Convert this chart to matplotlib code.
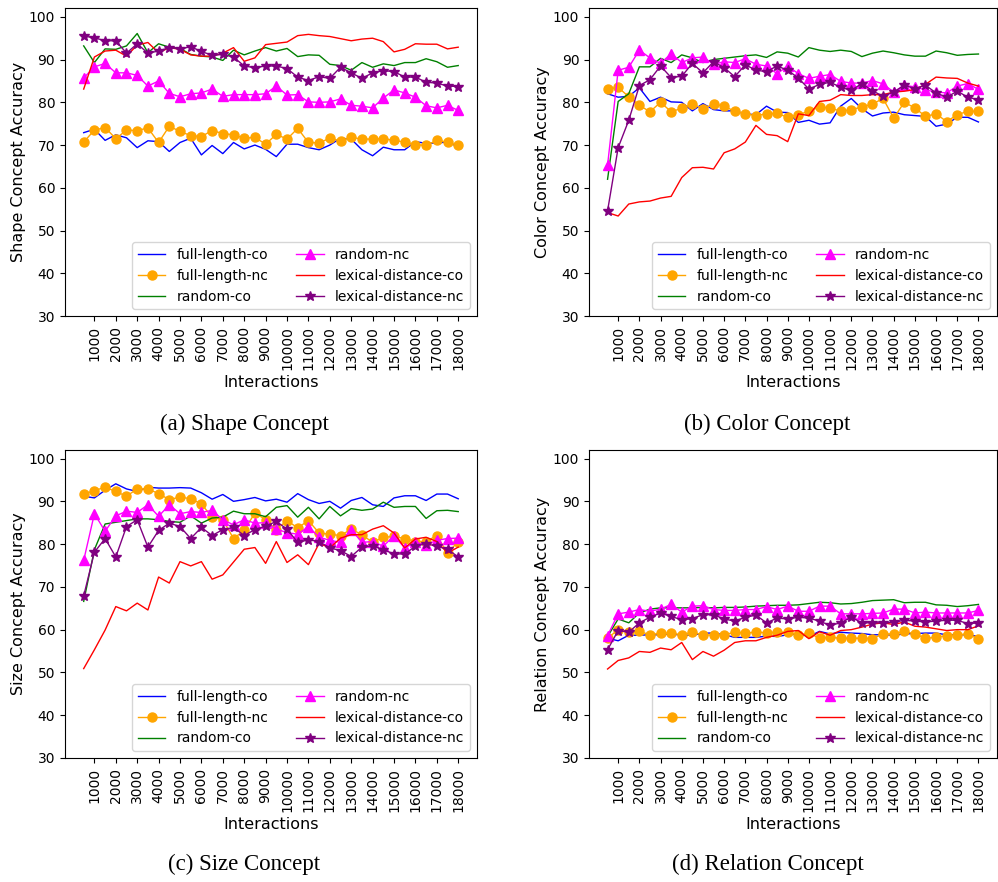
import matplotlib
matplotlib.use("Agg")
import matplotlib.pyplot as plt

interactions = [500, 1000, 1500, 2000, 2500, 3000, 3500, 4000, 4500, 5000, 5500, 6000,
                6500, 7000, 7500, 8000, 8500, 9000, 9500, 10000, 10500, 11000, 11500, 12000,
                12500, 13000, 13500, 14000, 14500, 15000, 15500, 16000, 16500, 17000, 17500, 18000]
xtick_values = [1000, 2000, 3000, 4000, 5000, 6000, 7000, 8000, 9000,
                10000, 11000, 12000, 13000, 14000, 15000, 16000, 17000, 18000]
series_names = ["full-length-co", "full-length-nc", "random-co",
                "random-nc", "lexical-distance-co", "lexical-distance-nc"]

# (a) shape
shape_full_co = [72.9, 73.7, 71.1, 72.4, 71.7, 69.4, 71.0, 70.8, 68.5, 70.6, 71.6, 67.7,
                 69.9, 68.0, 70.6, 69.1, 70.0, 69.0, 67.3, 70.2, 70.2, 69.4, 68.9, 70.0,
                 71.6, 71.4, 68.9, 67.5, 69.5, 68.9, 68.9, 70.8, 70.4, 70.5, 70.7, 69.6]
shape_full_nc = [70.7, 73.5, 74.1, 71.5, 73.5, 73.4, 74.0, 70.6, 74.4, 73.2, 72.2, 72.0,
                 73.4, 72.7, 72.4, 71.6, 71.8, 70.2, 72.5, 71.4, 73.9, 70.6, 70.5, 71.6,
                 71.0, 71.8, 71.4, 71.4, 71.5, 71.1, 70.7, 70.1, 69.9, 71.1, 70.7, 69.9]
shape_random_co = [93.2, 89.3, 92.5, 92.4, 93.2, 96.1, 91.6, 93.7, 92.9, 92.6, 91.2, 90.8,
                   90.6, 89.8, 92.2, 91.1, 92.0, 92.8, 92.0, 92.6, 90.7, 91.1, 91.0, 88.9,
                   88.6, 87.5, 89.3, 88.2, 89.0, 88.6, 89.3, 89.3, 90.2, 89.5, 88.2, 88.6]
shape_random_nc = [85.7, 88.3, 89.1, 86.9, 86.9, 86.3, 83.8, 85.0, 82.1, 81.3, 82.0, 82.2,
                   83.1, 81.4, 81.8, 81.8, 81.8, 82.0, 83.8, 81.7, 81.8, 80.1, 80.0, 80.1,
                   80.8, 79.3, 79.1, 78.7, 81.0, 82.9, 82.2, 81.2, 79.2, 78.7, 79.3, 78.1]
shape_lex_co = [83.1, 90.6, 92.0, 92.2, 90.8, 93.4, 94.0, 91.6, 92.8, 92.4, 91.1, 90.8,
                90.8, 91.5, 92.8, 89.6, 90.4, 93.5, 93.8, 94.1, 95.6, 95.9, 95.6, 95.4,
                94.9, 94.4, 94.8, 95.0, 94.2, 91.8, 92.4, 93.7, 93.6, 93.6, 92.5, 92.9]
shape_lex_nc = [95.5, 95.1, 94.4, 94.4, 91.5, 93.7, 91.5, 92.0, 92.8, 92.5, 93.0, 91.9,
                91.0, 91.2, 90.6, 88.5, 88.1, 88.5, 88.5, 87.9, 85.9, 85.1, 86.0, 85.6,
                88.2, 86.9, 85.6, 86.9, 87.4, 87.2, 85.9, 85.9, 84.7, 84.5, 83.8, 83.7]

# (b) color
color_full_co = [82.0, 81.2, 81.4, 83.4, 80.2, 81.2, 80.1, 80.0, 78.0, 79.7, 78.3, 78.0,
                 78.0, 77.3, 77.1, 79.1, 77.7, 77.6, 75.3, 75.8, 74.9, 75.2, 79.1, 80.9,
                 78.5, 76.8, 77.5, 77.7, 77.1, 76.9, 76.7, 74.4, 74.9, 76.5, 76.5, 75.4]
color_full_nc = [83.1, 83.5, 81.3, 79.3, 77.8, 80.0, 77.8, 78.6, 79.6, 78.5, 79.6, 79.1,
                 77.9, 77.3, 76.9, 77.3, 77.4, 76.5, 77.1, 77.9, 78.9, 78.7, 77.9, 78.3,
                 78.9, 79.6, 80.9, 76.3, 80.0, 78.7, 76.7, 77.3, 75.5, 77.1, 77.9, 77.9]
color_random_co = [62.0, 80.2, 82.0, 88.3, 88.3, 90.3, 89.3, 91.1, 90.4, 89.3, 90.0, 90.3,
                   90.6, 90.9, 91.1, 90.5, 91.8, 91.5, 90.6, 92.8, 92.2, 91.9, 92.2, 91.9,
                   90.7, 91.5, 92.0, 91.6, 91.1, 90.8, 90.8, 92.0, 91.6, 91.0, 91.2, 91.3]
color_random_nc = [65.3, 87.5, 88.2, 92.2, 90.4, 89.1, 91.4, 89.3, 90.4, 90.6, 88.9, 89.5,
                   89.3, 90.2, 88.9, 88.5, 86.7, 88.5, 86.7, 85.6, 86.1, 86.5, 84.9, 84.5,
                   84.5, 85.1, 84.3, 82.4, 84.0, 83.6, 82.9, 82.4, 82.2, 83.8, 84.4, 83.0]
color_lex_co = [54.2, 53.4, 56.2, 56.7, 56.9, 57.6, 58.0, 62.4, 64.7, 64.8, 64.4, 68.2,
                69.1, 70.7, 74.6, 72.5, 72.2, 70.8, 77.3, 76.9, 80.2, 80.5, 81.8, 81.6,
                81.6, 81.8, 81.8, 82.4, 82.6, 83.0, 84.2, 85.9, 85.7, 85.6, 84.5, 83.8]
color_lex_nc = [54.6, 69.4, 75.8, 83.9, 85.3, 88.5, 85.8, 86.1, 89.1, 86.9, 89.5, 88.1,
                86.0, 88.8, 87.5, 87.2, 88.5, 87.5, 85.7, 83.1, 84.2, 84.7, 83.5, 82.8,
                84.4, 82.7, 81.4, 82.4, 84.0, 83.2, 84.0, 82.2, 81.2, 82.6, 81.2, 80.6]

# (c) size
size_full_co = [91.2, 90.8, 92.6, 94.1, 92.9, 92.3, 93.3, 93.1, 93.1, 93.2, 93.1, 92.0,
                90.5, 91.6, 90.0, 90.4, 90.9, 90.1, 90.5, 89.8, 91.8, 90.4, 89.5, 90.0,
                88.4, 90.2, 90.9, 89.2, 88.8, 90.8, 91.3, 91.3, 90.2, 91.7, 91.7, 90.6]
size_full_nc = [91.7, 92.5, 93.3, 92.3, 91.2, 92.9, 92.9, 91.8, 90.4, 91.0, 90.6, 89.4,
                86.3, 85.7, 81.3, 83.2, 87.3, 85.7, 83.4, 85.5, 83.8, 85.5, 82.6, 82.3,
                82.0, 83.5, 82.2, 80.4, 81.6, 81.8, 81.3, 80.6, 80.6, 82.0, 77.9, 80.6]
size_random_co = [66.6, 78.7, 84.7, 85.1, 85.5, 85.9, 85.9, 85.7, 85.3, 85.1, 86.6, 84.9,
                  86.1, 86.3, 87.7, 87.1, 87.1, 86.4, 88.6, 89.0, 86.3, 88.6, 85.9, 88.8,
                  86.6, 88.3, 87.9, 88.2, 89.8, 88.6, 88.8, 88.8, 86.0, 87.8, 87.9, 87.6]
size_random_nc = [76.2, 87.1, 83.0, 86.6, 87.7, 87.4, 89.2, 86.5, 89.2, 87.1, 87.6, 87.4,
                  87.9, 85.7, 84.5, 85.7, 84.9, 85.0, 83.5, 82.7, 82.3, 84.1, 81.6, 80.9,
                  80.4, 83.4, 80.4, 80.6, 79.5, 82.0, 79.1, 80.4, 79.8, 80.9, 81.3, 81.4]
size_lex_co = [50.9, 55.3, 59.9, 65.4, 64.4, 66.2, 64.6, 72.3, 70.9, 75.9, 74.9, 75.9,
               71.8, 72.8, 75.8, 78.8, 79.2, 75.5, 80.6, 75.7, 77.5, 75.2, 80.2, 79.1,
               81.4, 82.2, 82.2, 83.5, 84.3, 82.6, 79.1, 81.2, 81.6, 80.6, 77.9, 79.3]
size_lex_nc = [67.9, 78.1, 81.3, 77.0, 84.1, 85.7, 79.3, 83.2, 84.9, 84.1, 81.3, 83.9,
               82.0, 83.4, 83.9, 82.0, 83.4, 84.2, 85.3, 83.5, 80.4, 81.0, 80.6, 79.1,
               78.5, 77.1, 79.3, 79.6, 78.7, 77.7, 77.7, 79.5, 80.1, 79.5, 78.8, 77.0]

# (d) relation
rel_full_co = [58.0, 57.4, 58.7, 58.7, 58.8, 58.8, 59.0, 58.7, 58.7, 59.2, 59.2, 58.8,
               58.2, 58.2, 58.2, 58.5, 58.4, 58.8, 59.0, 58.4, 59.6, 59.0, 59.4, 59.2,
               59.1, 58.8, 58.8, 58.7, 59.0, 59.1, 59.2, 59.2, 58.8, 58.8, 58.8, 58.4]
rel_full_nc = [58.0, 60.0, 59.4, 59.6, 58.8, 59.2, 59.2, 58.8, 59.4, 58.8, 58.7, 58.8,
               59.4, 59.2, 59.4, 59.3, 59.4, 59.4, 58.7, 59.2, 58.0, 58.2, 58.0, 58.0,
               58.0, 57.9, 59.0, 59.0, 59.6, 59.0, 58.0, 58.2, 58.6, 58.7, 59.1, 57.7]
rel_random_co = [58.4, 62.5, 61.6, 63.9, 64.8, 65.1, 65.1, 65.1, 65.1, 65.2, 65.1, 65.2,
                 65.2, 65.3, 65.5, 65.6, 65.7, 65.7, 65.8, 66.1, 66.4, 66.3, 66.0, 66.1,
                 66.4, 66.8, 66.9, 67.0, 66.3, 66.4, 66.4, 65.8, 65.7, 65.4, 65.6, 65.9]
rel_random_nc = [58.6, 63.7, 64.1, 64.7, 64.3, 64.8, 65.9, 64.1, 65.5, 65.6, 64.7, 64.5,
                 64.5, 64.7, 64.7, 65.4, 64.7, 65.5, 64.3, 64.3, 65.5, 65.5, 63.7, 63.7,
                 63.7, 63.8, 63.9, 64.8, 64.8, 63.9, 64.1, 63.9, 63.9, 63.9, 63.9, 64.5]
rel_lex_co = [50.8, 52.8, 53.4, 54.9, 54.7, 55.7, 55.3, 57.0, 53.0, 54.9, 53.8, 55.2,
              57.0, 57.4, 57.4, 58.2, 58.7, 59.6, 59.8, 57.9, 59.5, 58.7, 59.8, 60.0,
              60.6, 61.3, 61.6, 61.2, 61.8, 60.8, 60.6, 60.2, 59.8, 60.0, 60.0, 60.9]
rel_lex_nc = [55.3, 59.8, 59.4, 61.6, 62.9, 63.9, 63.1, 62.3, 62.6, 63.5, 63.5, 62.5,
              62.0, 62.9, 63.4, 61.6, 62.7, 62.5, 62.9, 62.7, 62.0, 61.0, 61.6, 62.9,
              61.6, 61.6, 61.6, 61.7, 62.2, 62.0, 61.8, 62.0, 62.2, 62.2, 61.4, 61.6]

styles = [
    dict(color="blue"),
    dict(color="orange", marker="o", markersize=6.5),
    dict(color="green"),
    dict(color="magenta", marker="^", markersize=7),
    dict(color="red"),
    dict(color="purple", marker="*", markersize=7.5),
]


def draw_panel(fig, rect, all_series, ylabel, caption, caption_xy):
    ax = fig.add_axes(rect)
    for name, values, st in zip(series_names, all_series, styles):
        ax.plot(interactions, values, label=name, linewidth=1.0, **st)
    ax.set_ylim(30, 102)
    ax.set_yticks([30, 40, 50, 60, 70, 80, 90, 100])
    ax.set_xticks(xtick_values)
    ax.set_xticklabels([str(v) for v in xtick_values], rotation=90)
    ax.tick_params(labelsize=10)
    ax.set_xlabel("Interactions", fontsize=11.5)
    ax.set_ylabel(ylabel, fontsize=11.5, labelpad=2)
    ax.legend(loc="lower right", ncol=2, fontsize=10)
    fig.text(caption_xy[0], caption_xy[1], caption, ha="center", va="center",
             family="Liberation Serif", fontsize=16.5)
    return ax


def main():
    fig = plt.figure(figsize=(9.98, 8.82), dpi=100)

    draw_panel(fig, [0.0651, 0.6417, 0.4128, 0.3489],
               [shape_full_co, shape_full_nc, shape_random_co, shape_random_nc, shape_lex_co, shape_lex_nc],
               "Shape Concept Accuracy", "(a) Shape Concept", (0.245, 0.519))
    draw_panel(fig, [0.5902, 0.6417, 0.4088, 0.3489],
               [color_full_co, color_full_nc, color_random_co, color_random_nc, color_lex_co, color_lex_nc],
               "Color Concept Accuracy", "(b) Color Concept", (0.769, 0.519))
    draw_panel(fig, [0.0651, 0.1406, 0.4128, 0.3492],
               [size_full_co, size_full_nc, size_random_co, size_random_nc, size_lex_co, size_lex_nc],
               "Size Concept Accuracy", "(c) Size Concept", (0.245, 0.0204))
    draw_panel(fig, [0.5902, 0.1406, 0.4088, 0.3492],
               [rel_full_co, rel_full_nc, rel_random_co, rel_random_nc, rel_lex_co, rel_lex_nc],
               "Relation Concept Accuracy", "(d) Relation Concept", (0.769, 0.0204))

    fig.savefig("out.png", dpi=100)


if __name__ == "__main__":
    main()
